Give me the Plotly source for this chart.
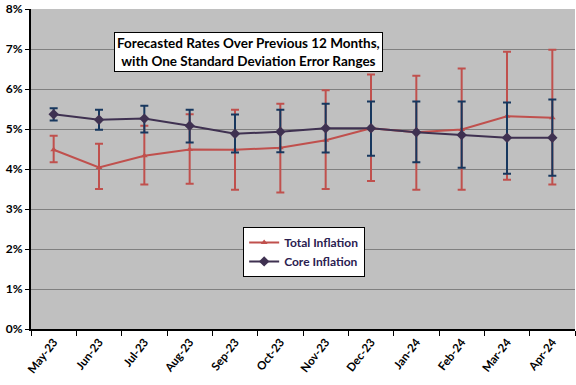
import plotly.graph_objects as go

months = ["May-23", "Jun-23", "Jul-23", "Aug-23", "Sep-23", "Oct-23",
          "Nov-23", "Dec-23", "Jan-24", "Feb-24", "Mar-24", "Apr-24"]

total = [4.48, 4.04, 4.33, 4.49, 4.48, 4.53, 4.72, 5.02, 4.92, 4.99, 5.32, 5.28]
total_upper = [4.83, 4.63, 5.08, 5.37, 5.48, 5.63, 5.97, 6.36, 6.33, 6.51, 6.93, 6.98]
total_lower = [4.17, 3.50, 3.61, 3.63, 3.48, 3.41, 3.50, 3.70, 3.48, 3.48, 3.73, 3.61]

core = [5.37, 5.23, 5.26, 5.08, 4.88, 4.93, 5.02, 5.02, 4.92, 4.85, 4.78, 4.78]
core_upper = [5.52, 5.48, 5.58, 5.48, 5.36, 5.48, 5.63, 5.69, 5.69, 5.69, 5.66, 5.74]
core_lower = [5.21, 4.98, 4.91, 4.66, 4.41, 4.42, 4.41, 4.33, 4.17, 4.03, 3.88, 3.83]

y_ticks = [0, 1, 2, 3, 4, 5, 6, 7, 8]
y_labels = [f"{v}%" for v in y_ticks]

title_text = "Forecasted Rates Over Previous 12 Months,<br>with One Standard Deviation Error Ranges"

fig = go.Figure()

fig.add_trace(go.Scatter(
    x=months, y=total, name="Total Inflation", mode="lines+markers",
    line=dict(color="#C0504D", width=2),
    marker=dict(symbol="triangle-up", size=6, color="#C0504D"),
    error_y=dict(type="data", symmetric=False,
                 array=[u - v for u, v in zip(total_upper, total)],
                 arrayminus=[v - l for v, l in zip(total, total_lower)],
                 color="#C0504D", thickness=2, width=4),
))

fig.add_trace(go.Scatter(
    x=months, y=core, name="Core Inflation", mode="lines+markers",
    line=dict(color="#3F3151", width=2),
    marker=dict(symbol="diamond", size=8, color="#3F3151"),
    error_y=dict(type="data", symmetric=False,
                 array=[u - v for u, v in zip(core_upper, core)],
                 arrayminus=[v - l for v, l in zip(core, core_lower)],
                 color="#17375E", thickness=2, width=4),
))

fig.add_annotation(
    text=title_text, xref="paper", yref="paper", x=0.4007, y=0.866,
    xanchor="center", yanchor="middle", showarrow=False,
    font=dict(family="Lato", size=13.5, color="black", weight="bold"),
    bgcolor="white", bordercolor="black", borderwidth=1, borderpad=2,
)

fig.update_layout(
    width=576, height=385,
    margin=dict(l=31, r=1, t=9, b=56, autoexpand=False),
    paper_bgcolor="white", plot_bgcolor="#C0C0C0",
    font=dict(family="Lato", color="black"),
    showlegend=True,
    legend=dict(x=0.39, y=0.319, xanchor="left", yanchor="top",
                bgcolor="white", bordercolor="black", borderwidth=1,
                font=dict(family="Lato", size=12, color="#2A2050", weight="bold"),
                itemwidth=30, tracegroupgap=0),
    xaxis=dict(type="category", tickangle=-52, tickson="boundaries",
               ticks="outside", ticklen=5, tickwidth=1, tickcolor="black",
               showgrid=False, showline=True, linecolor="black", linewidth=2,
               tickfont=dict(family="Lato", size=11.5, weight="bold"),
               range=[-0.5, 11.5], automargin=False),
    yaxis=dict(range=[0, 8], tickvals=y_ticks, ticktext=y_labels,
               ticks="outside", ticklen=4, tickcolor="black",
               showgrid=True, gridcolor="#808080", gridwidth=1,
               showline=True, linecolor="black", linewidth=2, zeroline=False,
               tickfont=dict(family="Lato", size=12, weight="bold"),
               automargin=False),
)

fig.write_html("out.html", config={"displayModeBar": False},
               post_script="document.body.style.margin='0';document.body.style.overflow='hidden';")
